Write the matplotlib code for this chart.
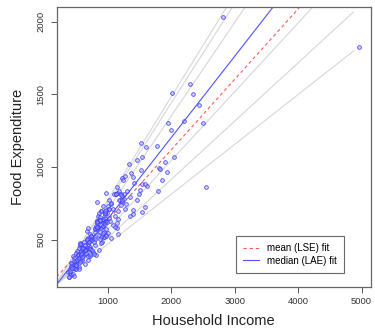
import numpy as np
import matplotlib
matplotlib.use("Agg")
import matplotlib.pyplot as plt

plt.rcParams['font.family'] = ['Liberation Sans', 'DejaVu Sans']

# Engel food expenditure data (household income vs food expenditure)
income = [
    420.1577, 541.4117, 901.1575, 639.0802, 750.8756, 945.7989, 829.3979, 979.1648, 1309.8789, 1492.3987,
    502.8390, 616.7168, 790.9225, 555.8786, 713.4412, 838.7561, 535.0766, 596.4408, 924.5619, 487.7583,
    692.6397, 997.8770, 506.9995, 654.1587, 933.9193, 433.6813, 587.5962, 896.4746, 454.4782, 584.9989,
    800.7990, 502.4369, 713.5197, 906.0006, 880.5969, 796.8289, 854.8791, 1167.3716, 523.8000, 670.7792,
    377.0584, 851.5430, 1121.0937, 625.5179, 805.5377, 558.5812, 884.4005, 1257.4989, 2051.1789, 1466.3330,
    730.0989, 2432.3910, 940.9218, 1177.8547, 1222.5939, 1519.5811, 687.6638, 953.1192, 953.1192, 953.1192,
    939.0418, 1283.4025, 1511.5789, 1342.5821, 511.7980, 689.7988, 1532.3074, 1056.0808, 387.3195, 387.3195,
    410.9987, 499.7510, 832.7554, 614.9986, 887.4658, 1595.1611, 1807.9520, 541.2006, 1057.6767, 800.7990,
    1245.6964, 1201.0002, 634.4002, 956.2315, 1148.6010, 1768.8236, 2822.5330, 922.3548, 2293.1920, 627.4726,
    889.9809, 1162.2000, 1197.0794, 530.7972, 1142.1620, 1088.0039, 484.6612, 1536.0201, 678.8974, 671.8802,
    690.4683, 860.6948, 873.3095, 894.4598, 1148.6470, 926.8762, 839.0414, 829.4974, 1264.0043, 1937.9771,
    698.8317, 920.4199, 1897.5711, 891.6824, 889.6784, 1221.4818, 544.5991, 1031.4491, 1462.9497, 830.4353,
    975.0415, 1337.9983, 867.6427, 725.7459, 989.0056, 1525.0005, 672.1960, 923.3977, 472.3215, 590.7601,
    831.7983, 1139.4945, 507.5169, 576.1972, 696.5991, 650.8180, 949.5802, 497.1193, 570.1674, 724.7306,
    408.3399, 638.6713, 1225.7890, 715.3701, 800.4708, 975.5974, 1613.7565, 608.5019, 958.6634, 835.9426,
    1024.8177, 1006.4353, 726.0000, 494.4174, 776.5958, 415.4407, 581.3599, 643.3571, 2551.6615, 1795.3226,
    1165.7734, 815.6212, 1264.2066, 1095.4056, 447.4479, 1178.9742, 975.8023, 1017.8522, 423.8798, 558.7767,
    943.2487, 1348.3002, 2340.6174, 587.1792, 1540.9741, 1115.8481, 1044.6843, 1389.7929, 2497.7860, 1585.3809,
    1862.0438, 2008.8546, 697.3099, 571.2517, 598.3465, 461.0977, 977.1107, 883.9849, 718.3594, 543.8971,
    1587.3480, 4957.8130, 969.6838, 419.9980, 561.9990, 689.5988, 1398.5203, 820.8168, 875.1716, 1392.4499,
    1256.3174, 1362.8590, 1999.2552, 1209.4730, 1125.0356, 1827.4010, 1014.1540, 880.3944, 873.7375, 951.4432,
    473.0022, 601.0007, 713.9979, 829.2984, 959.7953, 1212.9613, 958.8743, 1129.4431, 1943.0419, 539.6388,
    463.5990, 562.6400, 736.7584, 1415.4461, 2208.7897, 636.0009, 759.4010, 1078.8382, 748.6413, 987.6417,
    788.0961, 1020.0225, 1230.9235, 440.5174, 743.0772,
]
foodexp = [
    255.8394, 310.9587, 485.6800, 402.9974, 495.5608, 633.7978, 630.7566, 700.4409, 830.9586, 815.3602,
    338.0014, 412.3613, 520.0006, 452.4015, 512.7201, 658.8395, 392.5995, 443.5586, 640.1164, 333.8394,
    466.9583, 543.3969, 317.7198, 424.3209, 518.9617, 338.0014, 419.6412, 476.3200, 386.3602, 423.2783,
    503.3572, 354.6389, 497.3182, 588.5195, 654.5971, 550.7274, 528.3770, 640.4813, 401.3204, 435.9990,
    276.5606, 588.3488, 664.1978, 444.8602, 462.8995, 377.7792, 553.1504, 810.8962, 1067.9541, 1049.8788,
    522.7012, 1424.8047, 517.9196, 830.9586, 925.5795, 1162.0024, 383.4580, 621.1173, 621.1173, 621.1173,
    548.6002, 745.2353, 837.8005, 795.3402, 418.5976, 508.7974, 883.2780, 742.5276, 242.3202, 242.3202,
    266.0010, 408.4992, 614.7588, 385.3184, 515.6200, 1138.1620, 993.9630, 299.1993, 750.3202, 572.0807,
    907.3969, 811.5776, 427.7975, 649.9985, 860.6002, 1143.4211, 2032.6792, 590.6183, 1570.3911, 483.4800,
    600.4804, 696.2021, 774.7962, 390.5984, 612.5619, 708.7622, 296.9192, 1071.4627, 496.5976, 503.3974,
    357.6411, 430.3376, 624.6990, 582.5413, 580.2215, 543.8807, 588.6372, 627.9999, 712.1012, 968.3949,
    482.5816, 593.1694, 1033.5658, 693.6795, 693.6795, 761.2791, 361.3981, 628.4522, 771.4486, 757.1187,
    821.5970, 1022.3202, 679.4407, 538.7491, 679.9981, 977.0033, 561.2015, 728.3997, 372.3186, 361.5210,
    620.8006, 819.9964, 360.8780, 395.7608, 442.0001, 404.0384, 670.7993, 297.5702, 353.4882, 383.9376,
    284.8008, 431.1000, 801.3518, 448.4513, 577.9111, 570.5210, 865.3205, 444.5578, 680.4198, 576.2779,
    708.4787, 734.2356, 433.0010, 327.4188, 485.5198, 305.4390, 468.0008, 459.8177, 863.9199, 831.4407,
    534.7610, 392.0502, 934.9752, 813.3081, 263.7100, 769.0838, 630.5863, 645.9874, 319.5584, 348.4518,
    614.5068, 662.0096, 1504.3708, 406.2180, 692.1689, 588.1371, 511.2609, 700.5600, 1301.1451, 879.0660,
    912.8851, 1509.7812, 484.0605, 399.6703, 444.1001, 248.8101, 527.8014, 500.6313, 436.8107, 374.7990,
    726.3921, 1827.2000, 523.4911, 334.9998, 473.2009, 581.2029, 929.7540, 591.1974, 637.5483, 674.9509,
    776.7589, 959.5170, 1250.9643, 737.8201, 810.6772, 983.0009, 708.8968, 633.1200, 631.7982, 608.6419,
    300.9999, 377.9984, 397.0015, 588.5195, 681.7616, 807.3603, 696.8011, 811.1962, 1305.7201, 442.0001,
    353.6013, 468.0008, 526.7573, 890.2390, 1318.8033, 331.0005, 416.4015, 596.8406, 429.0399, 619.6408,
    400.7990, 775.0209, 772.7611, 306.5191, 522.6019,
]

# quantile regression fits (tau = .05 .10 .25 .75 .90 .95): intercepts and slopes
q_intercept = [124.88, 110.14, 95.48, 62.40, 67.35, 64.10]
q_slope = [0.3434, 0.4017, 0.4741, 0.6440, 0.6862, 0.7091]
mean_fit = [147.48, 0.4852]    # least squares
median_fit = [81.48, 0.5602]   # least absolute error

x = np.array(income)
y = np.array(foodexp)

fig = plt.figure(figsize=(3.75, 3.31), dpi=100)
ax = fig.add_axes([0.151, 0.132, 0.837, 0.848])

pad_x = 0.04 * (x.max() - x.min())
pad_y = 0.04 * (y.max() - y.min())
xlim = (x.min() - pad_x, x.max() + pad_x)
ylim = (y.min() - pad_y, y.max() + pad_y)

# gray quantile lines
xs = np.array([xlim[0], 4870])
for a, b in zip(q_intercept, q_slope):
    ax.plot(xs, a + b * xs, color="#d6d6d6", lw=0.8, zorder=1)

xa = np.array(xlim)
ax.plot(xa, mean_fit[0] + mean_fit[1] * xa, color="#ff5a5a", lw=0.8,
        ls=(0, (3, 2.5)), label="mean (LSE) fit", zorder=2)
ax.plot(xa, median_fit[0] + median_fit[1] * xa, color="#5050ff", lw=0.8,
        label="median (LAE) fit", zorder=2)

ax.scatter(x, y, s=7, facecolor=(0.6, 0.6, 1.0, 0.45), edgecolor="#4040ff",
           linewidth=0.55, zorder=3)

ax.set_xlim(xlim)
ax.set_ylim(ylim)
ax.set_xticks([1000, 2000, 3000, 4000, 5000])
ax.set_yticks([500, 1000, 1500, 2000])
ax.tick_params(labelsize=6.8, length=4, width=0.7, pad=3, color="#555555", labelcolor="#333333")
ax.tick_params(axis="y", pad=4)
for lbl in ax.get_yticklabels():
    lbl.set_rotation(90)
    lbl.set_va("center")
for sp in ax.spines.values():
    sp.set_color("#666666")
    sp.set_linewidth(0.9)

ax.set_xlabel("Household Income", fontsize=10.5, color="#222222", labelpad=6)
ax.set_ylabel("Food Expenditure", fontsize=10.5, color="#222222", labelpad=8)

leg = ax.legend(loc="lower right", bbox_to_anchor=(344 / 375, 1 - 273 / 331),
                bbox_transform=fig.transFigure, fontsize=7, frameon=True,
                fancybox=False, handlelength=1.65, handletextpad=0.8,
                borderpad=0.75, labelspacing=0.25, borderaxespad=0)
leg.get_frame().set_edgecolor("#444444")
leg.get_frame().set_linewidth(0.8)

fig.savefig("out.png", dpi=100)
